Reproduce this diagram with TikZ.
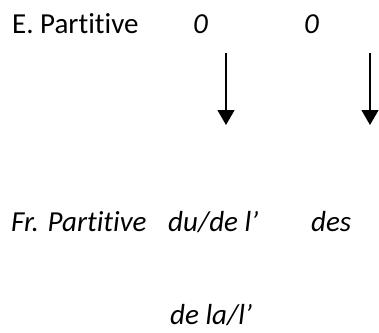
\documentclass[tikz,border=0pt]{standalone}
\usepackage{fontspec}
\setmainfont[Ligatures={NoCommon}]{Carlito}
\usetikzlibrary{arrows.meta}
\begin{document}
\begin{tikzpicture}[x=1pt,y=-1pt,
  lbl/.style={anchor=base west,inner sep=0pt,font=\fontsize{29}{34}\selectfont},
  ital/.style={lbl,font=\fontsize{29}{34}\selectfont\itshape},
  arr/.style={line width=1.3pt,-{Triangle[width=17pt,length=15pt]}}]
\useasboundingbox (0,0) rectangle (379,332);
% English row
\node[lbl]  (ep) at (12,33) {E. Partitive};
\node[ital] (z1) at (193,33) {0};
\node[ital] (z2) at (304,33) {0};
% French row
\node[ital] (fp) at (11,231) {Fr. Partitive};
\node[ital] (du) at (168,231) {du/de l’};
\node[ital] (de) at (311,231) {des};
\node[ital] (dl) at (170,324) {de la/l’};
% arrows
\coordinate (a1s) at (226,53);
\coordinate (a1e) at (226,125);
\coordinate (a2s) at (370,53);
\coordinate (a2e) at (370,125);
\draw[arr] (a1s) -- (a1e);
\draw[arr] (a2s) -- (a2e);
\end{tikzpicture}
\end{document}
